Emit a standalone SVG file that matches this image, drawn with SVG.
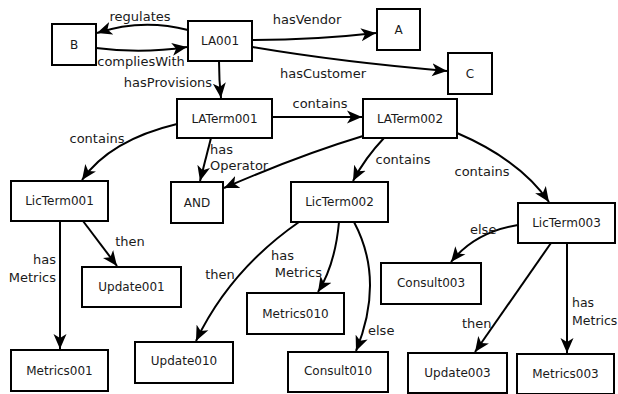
<svg xmlns="http://www.w3.org/2000/svg" width="618" height="394" viewBox="0 0 618 394">
<style>
.box{fill:#fff;stroke:#000;stroke-width:2}
.t{font-family:"DejaVu Sans",sans-serif;font-size:12px;fill:#1a1a1a;text-anchor:middle}
.lc{font-family:"DejaVu Sans",sans-serif;font-size:13px;fill:#1a1a1a;text-anchor:middle}
.l{font-family:"DejaVu Sans",sans-serif;font-size:13px;fill:#1a1a1a}
.e{fill:none;stroke:#000;stroke-width:2;marker-end:url(#ah)}
</style>
<defs>
<marker id="ah" markerUnits="userSpaceOnUse" markerWidth="17" markerHeight="14" refX="15" refY="6.5" orient="auto" viewBox="0 0 17 13">
<path d="M0,0 L15,6.5 L0,13 L4,6.5 z" fill="#000"/>
</marker>
</defs>
<rect width="618" height="394" fill="#fff"/>
<g id="connectors">
<path class="e" d="M188,30 Q142,18 97,33"/>
<path class="e" d="M96,48 Q142,54 187,47"/>
<path class="e" d="M219,61 Q219,80 221,98"/>
<path class="e" d="M252,40 Q315,40 376,33"/>
<path class="e" d="M252,47 Q340,62 447,71"/>
<path class="e" d="M272,117 L362,117"/>
<path class="e" d="M177,124 Q110,140 82,180"/>
<path class="e" d="M211,138 L200,181"/>
<path class="e" d="M363,136 Q300,155 224,188"/>
<path class="e" d="M384,138 Q365,158 353,181"/>
<path class="e" d="M457,133 Q520,160 549,202"/>
<path class="e" d="M83,221 L117,266"/>
<path class="e" d="M60,221 L60,349"/>
<path class="e" d="M299,222 Q230,270 196,341"/>
<path class="e" d="M339,222 Q335,265 318,292"/>
<path class="e" d="M354,222 Q385,280 356,351"/>
<path class="e" d="M518,225 Q475,232 451,262"/>
<path class="e" d="M551,243 L475,352"/>
<path class="e" d="M567,243 L567,353"/>
<text class="lc" x="140" y="21">regulates</text>
<text class="lc" x="141" y="66">compliesWith</text>
<text class="lc" x="168" y="87">hasProvisions</text>
<text class="lc" x="307" y="24">hasVendor</text>
<text class="lc" x="323" y="78">hasCustomer</text>
<text class="lc" x="320" y="108">contains</text>
<text class="lc" x="97" y="143">contains</text>
<text class="l" x="210" y="154">has</text>
<text class="l" x="210" y="170">Operator</text>
<text class="lc" x="403" y="164">contains</text>
<text class="lc" x="482" y="176">contains</text>
<text class="lc" x="130" y="246">then</text>
<text class="l" x="56" y="264" text-anchor="end">has</text>
<text class="l" x="56" y="282" text-anchor="end">Metrics</text>
<text class="lc" x="220" y="279">then</text>
<text class="l" x="294" y="260" text-anchor="end">has</text>
<text class="l" x="322" y="277" text-anchor="end">Metrics</text>
<text class="l" x="368" y="335">else</text>
<text class="l" x="470" y="234">else</text>
<text class="l" x="462" y="328">then</text>
<text class="l" x="572" y="307" style="font-size:12.5px">has</text>
<text class="l" x="572" y="325" style="font-size:12.5px">Metrics</text>
</g>
<g id="B"><rect class="box" x="52" y="24" width="44" height="41"/><text class="t" x="74" y="49">B</text></g>
<g id="LA001"><rect class="box" x="188" y="21" width="64" height="40"/><text class="t" x="220" y="45">LA001</text></g>
<g id="A"><rect class="box" x="377" y="9" width="43" height="41"/><text class="t" x="398.5" y="34">A</text></g>
<g id="C"><rect class="box" x="448" y="53" width="44" height="41"/><text class="t" x="470" y="78">C</text></g>
<g id="LATerm001"><rect class="box" x="177" y="99" width="95" height="39"/><text class="t" x="224.5" y="123">LATerm001</text></g>
<g id="LATerm002"><rect class="box" x="363" y="99" width="94" height="39"/><text class="t" x="410" y="123">LATerm002</text></g>
<g id="LicTerm001"><rect class="box" x="11" y="181" width="97" height="40"/><text class="t" x="59.5" y="205">LicTerm001</text></g>
<g id="AND"><rect class="box" x="171" y="182" width="52" height="41"/><text class="t" x="197" y="207">AND</text></g>
<g id="LicTerm002"><rect class="box" x="291" y="182" width="97" height="40"/><text class="t" x="339.5" y="206">LicTerm002</text></g>
<g id="LicTerm003"><rect class="box" x="518" y="203" width="97" height="40"/><text class="t" x="566.5" y="227">LicTerm003</text></g>
<g id="Update001"><rect class="box" x="82" y="267" width="99" height="40"/><text class="t" x="131.5" y="291">Update001</text></g>
<g id="Metrics001"><rect class="box" x="11" y="350" width="97" height="41"/><text class="t" x="59.5" y="375">Metrics001</text></g>
<g id="Update010"><rect class="box" x="135" y="342" width="98" height="41"/><text class="t" x="184" y="365">Update010</text></g>
<g id="Metrics010"><rect class="box" x="247" y="293" width="97" height="41"/><text class="t" x="295.5" y="318">Metrics010</text></g>
<g id="Consult010"><rect class="box" x="288" y="352" width="100" height="40"/><text class="t" x="338" y="375">Consult010</text></g>
<g id="Consult003"><rect class="box" x="381" y="263" width="100" height="41"/><text class="t" x="431" y="287">Consult003</text></g>
<g id="Update003"><rect class="box" x="408" y="353" width="99" height="40"/><text class="t" x="457.5" y="377">Update003</text></g>
<g id="Metrics003"><rect class="box" x="517" y="354" width="97" height="40"/><text class="t" x="565.5" y="378">Metrics003</text></g>
</svg>
